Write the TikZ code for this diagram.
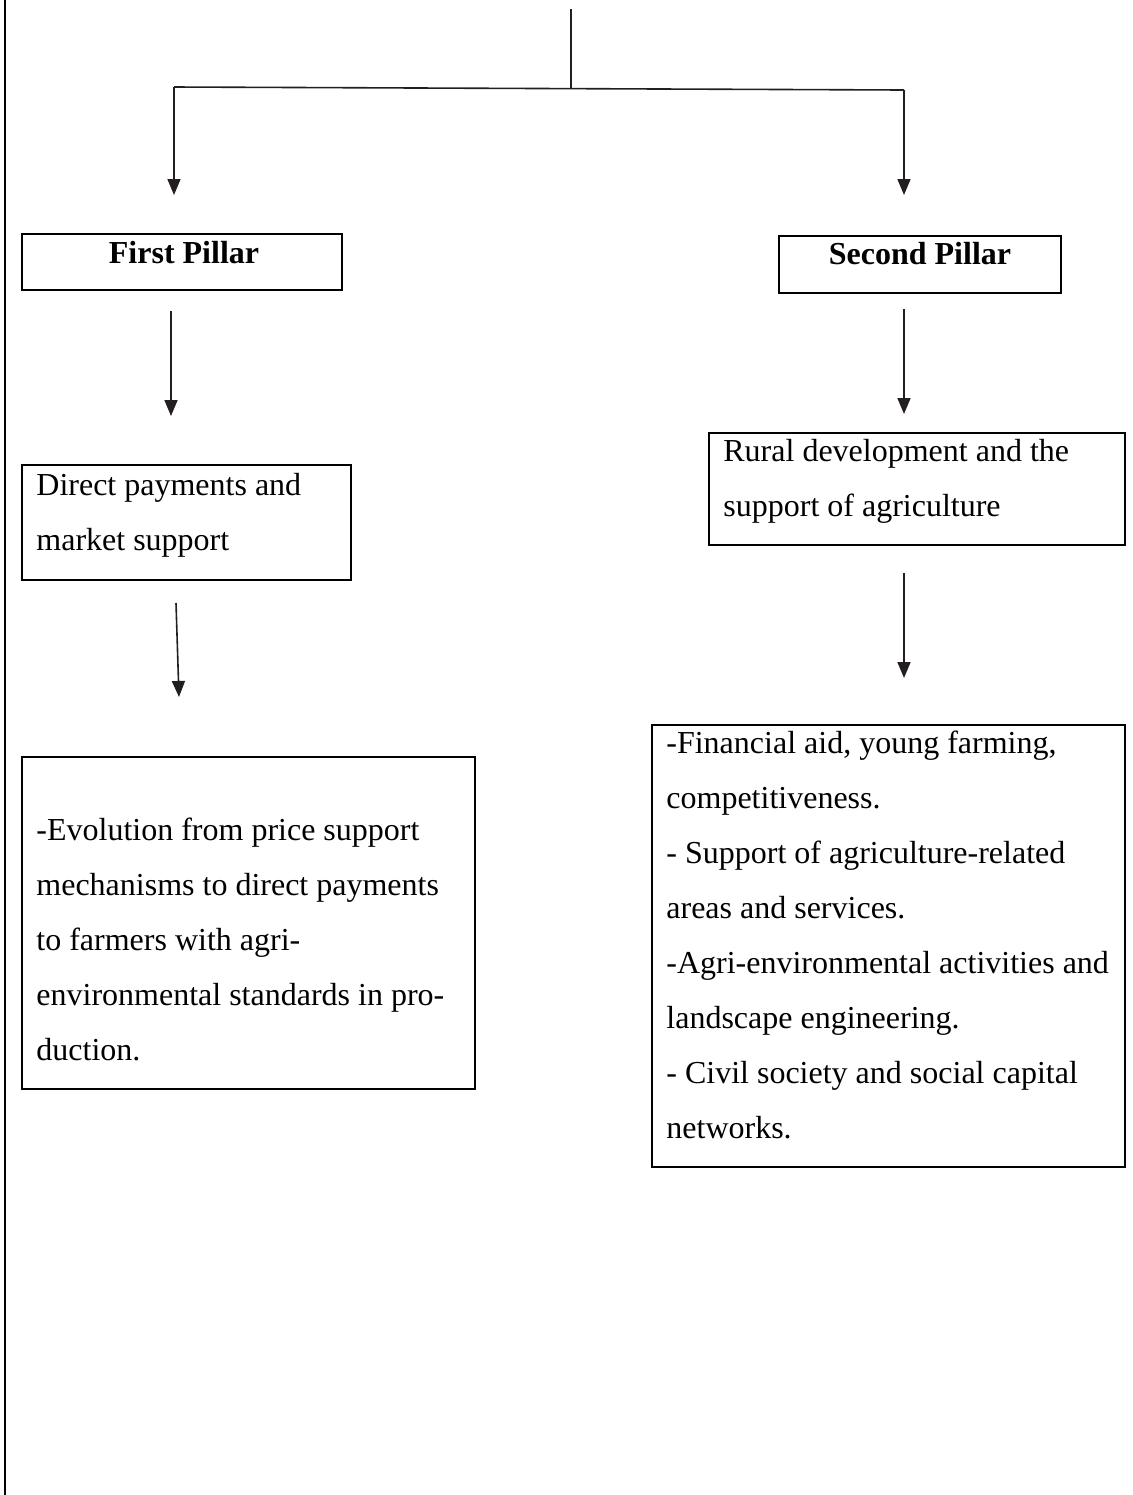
\documentclass[tikz,border=0pt]{standalone}
\usepackage{fontspec}
\setmainfont{Liberation Serif}
\usetikzlibrary{arrows.meta}
\definecolor{arrowgray}{HTML}{231F20}
\begin{document}
\begin{tikzpicture}[x=0.5pt,y=-0.5pt,
  boxst/.style={draw=black, line width=1pt, inner sep=0pt, anchor=north west},
  txt/.style={inner sep=0pt, anchor=base west, align=left, font=\fontsize{16pt}{27.5pt}\selectfont},
  ttl/.style={inner sep=0pt, anchor=base, font=\fontsize{16pt}{19pt}\selectfont\bfseries},
  conn/.style={draw=arrowgray, line width=0.8pt, line join=miter},
  arr/.style={conn, -{Triangle[width=6.5pt,length=8pt]}}
]
\useasboundingbox (0,0) rectangle (1132,1495);
\fill[white] (0,0) rectangle (1132,1495);

% left border line
\coordinate (bt) at (5,0);
\coordinate (bb) at (5,1495);
\draw[line width=1.25pt] (bt) -- (bb);

% boxes
\node[boxst, minimum width=160pt, minimum height=28pt] (fp) at (21,233) {};
\node[boxst, minimum width=141pt, minimum height=28.5pt] (sp) at (778,235) {};
\node[boxst, minimum width=164.5pt, minimum height=57.5pt] (dp) at (21,464) {};
\node[boxst, minimum width=208pt, minimum height=56pt] (rd) at (708,432) {};
\node[boxst, minimum width=226.5pt, minimum height=166pt] (ev) at (21,756) {};
\node[boxst, minimum width=236.5pt, minimum height=221pt] (fa) at (651,724) {};

% texts (base anchor = baseline of the last line)
\node[ttl] (fpt) at (184,263) {First Pillar};
\node[ttl] (spt) at (920,264) {Second Pillar};
\node[txt] (dpt) at (36,550) {Direct payments and\\market support};
\node[txt] (rdt) at (723,516) {Rural development and the\\support of agriculture};
\node[txt] (evt) at (36,1060) {-Evolution from price support\\mechanisms to direct payments\\to farmers with agri-\\environmental standards in pro-\\duction.};
\node[txt] (fat) at (666,1138) {-Financial aid, young farming,\\competitiveness.\\- Support of agriculture-related\\areas and services.\\-Agri-environmental activities and\\landscape engineering.\\- Civil society and social capital\\networks.};

% top connector
\coordinate (s0) at (571,9);
\coordinate (s1) at (571,88);
\coordinate (hL) at (174,87);
\coordinate (hR) at (904,90);
\coordinate (tL) at (174,195);
\coordinate (tR) at (904,195);
\draw[conn] (s0) -- (s1);
\draw[conn] (hL) -- (hR);
\draw[arr] (hL) -- (tL);
\draw[arr] (hR) -- (tR);

% second row arrows
\coordinate (a2Ls) at (171,311);
\coordinate (a2Le) at (171,416);
\coordinate (a2Rs) at (904,309);
\coordinate (a2Re) at (904,414);
\draw[arr] (a2Ls) -- (a2Le);
\draw[arr] (a2Rs) -- (a2Re);

% third row arrows
\coordinate (a3Ls) at (176,603);
\coordinate (a3Le) at (179,697);
\coordinate (a3Rs) at (904,573);
\coordinate (a3Re) at (904,678);
\draw[arr] (a3Ls) -- (a3Le);
\draw[arr] (a3Rs) -- (a3Re);
\end{tikzpicture}
\end{document}
